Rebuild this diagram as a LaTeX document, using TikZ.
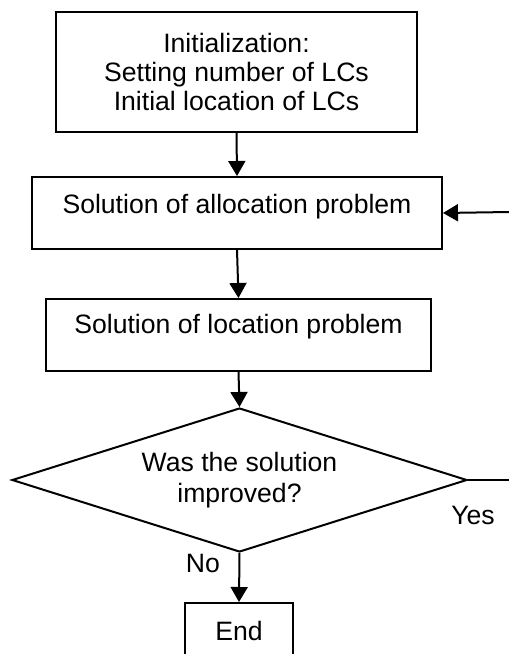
\documentclass[tikz,border=0pt]{standalone}
\usepackage{fontspec}
\setmainfont{Liberation Sans}
\usetikzlibrary{arrows.meta, positioning, shapes.geometric}
\tikzset{>= {Triangle[length = 15pt, width = 17pt]},
         every node/.style = {font = \fontsize{26.6}{29}\selectfont},
         process/.style = {draw, line width = 2pt, inner sep = 0pt, align = center},
         decision/.style = {draw, diamond, shape aspect = 3.16, line width = 2pt,
                            inner sep = 0pt, align = center,
                            minimum width = 455pt, minimum height = 144pt,
                            font = \fontsize{26.6}{31}\selectfont},
         flow/.style = {->, line width = 2pt}}

\begin{document}
\begin{tikzpicture}[x = 1pt, y = -1pt]
        \useasboundingbox (0, 0) rectangle (509, 654);

        \node[process, minimum width = 361pt, minimum height = 120pt] (init) at (236.5, 72)
             {Initialization:\\ Setting number of LCs\\ Initial location of LCs};
        \node[process, minimum width = 410pt, text height = 36.5pt, text depth = 35.5pt,
              anchor = north] (alloc) at (237, 176) {Solution of allocation problem};
        \node[process, minimum width = 385pt, text height = 34.5pt, text depth = 37.5pt,
              anchor = north] (locate) at (238.5, 298) {Solution of location problem};
        \node[decision] (test) at (239.5, 480) {Was the solution\\ improved?};
        \node[process, minimum width = 108pt, minimum height = 56pt] (end) at (239, 631) {End};

        \node (yes) at (473, 515) {Yes};
        \node (no)  at (203, 563) {No};
        \coordinate (yesend) at (509, 480);
        \coordinate (back)   at (509, 212);

        \draw[flow] (init.south)   -- (alloc.north);
        \draw[flow] (alloc.south)  -- (locate.north);
        \draw[flow] (locate.south) -- (test.north);
        \draw[flow] (test.south)   -- (end.north);
        \draw[line width = 2pt] (test.east) -- (yesend);
        \draw[flow] (back) -- (alloc.east);
    \end{tikzpicture}
\end{document}
